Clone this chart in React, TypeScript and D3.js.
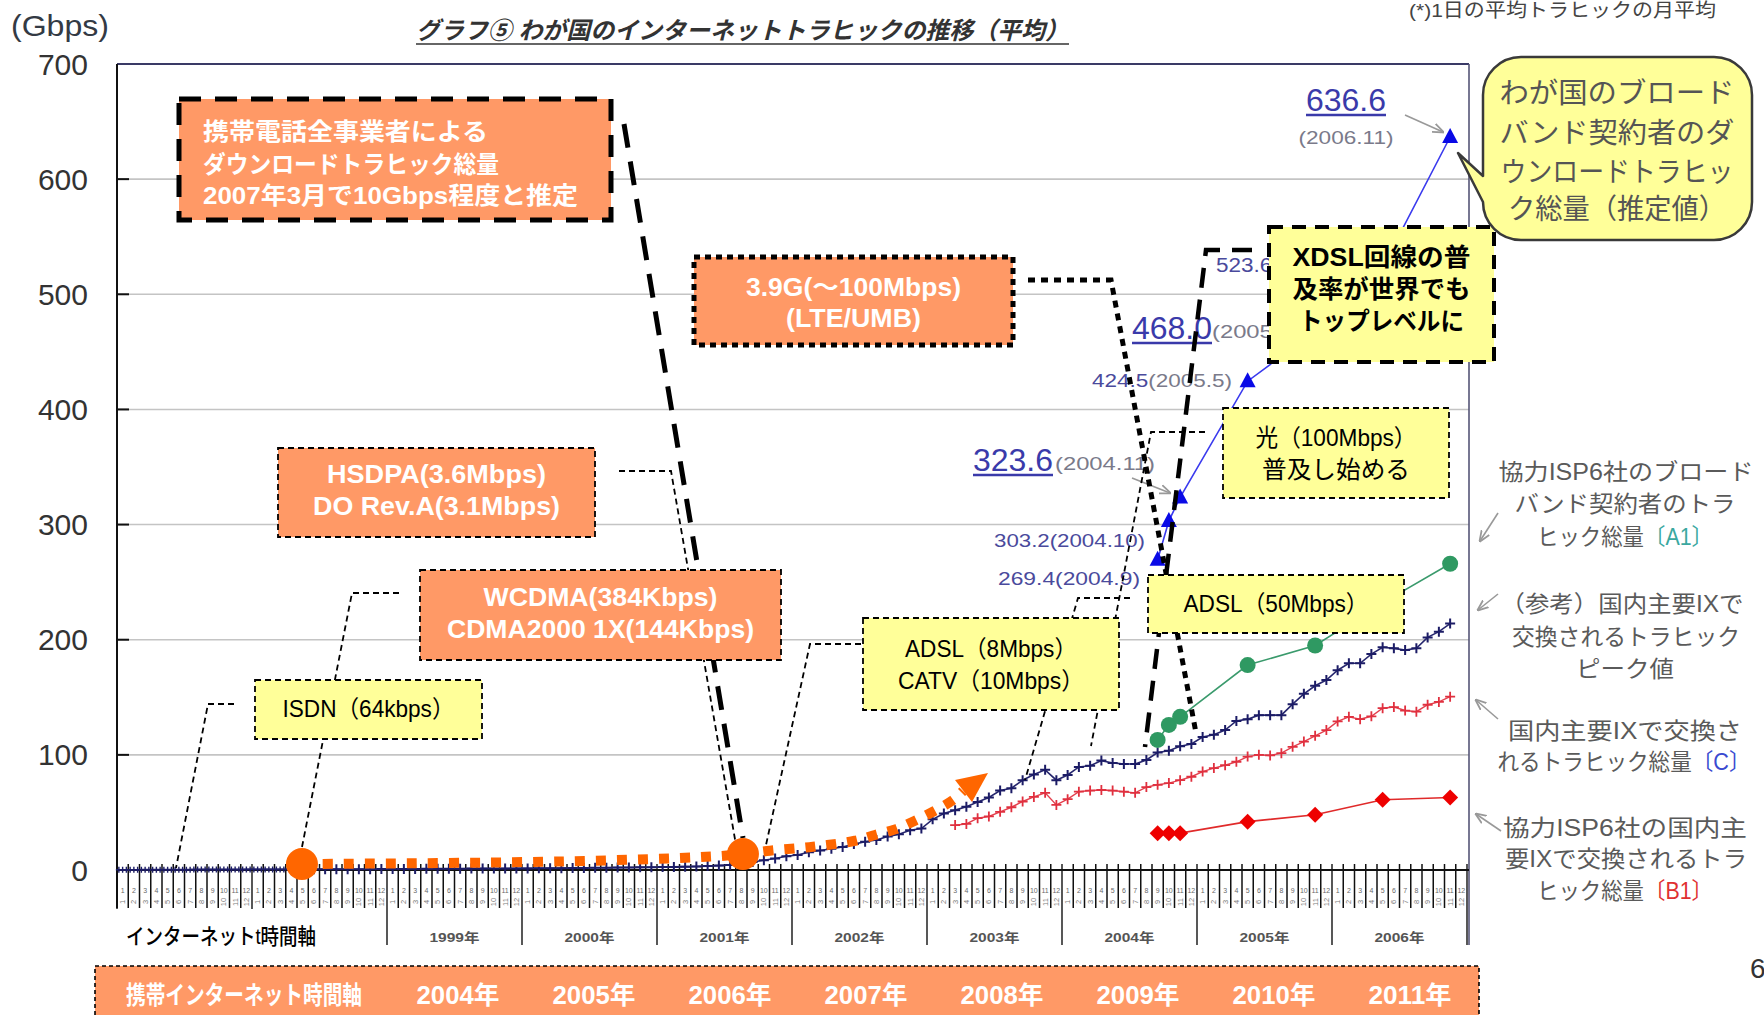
import React, { useEffect } from 'react';
import * as d3 from 'd3';

const FONT = "'Liberation Sans', 'Noto Sans CJK JP', sans-serif";
const ORANGE_BOX = '#ff9966';
const YELLOW = '#ffff99';
const ORANGE = '#ff6600';

// ---------------- data ----------------
const yTickValues = [0, 100, 200, 300, 400, 500, 600, 700];
const internetYearLabels = ['1999年', '2000年', '2001年', '2002年', '2003年', '2004年', '2005年', '2006年'];
const mobileYearLabels = ['2004年', '2005年', '2006年', '2007年', '2008年', '2009年', '2010年', '2011年'];

// (参考)国内主要IXで交換されるトラヒックピーク値 : 1997.1–1998.3, three readings per month
const peakEarly = [
  0.2, 0.2, 0.2, 0.2, 0.2, 0.2,
  0.3, 0.3, 0.3, 0.3, 0.3, 0.3, 0.3, 0.3, 0.3, 0.3, 0.3, 0.3, 0.3, 0.3,
  0.4, 0.4, 0.4, 0.4, 0.4, 0.4, 0.4, 0.4, 0.4, 0.4, 0.4, 0.4, 0.4, 0.4,
  0.5, 0.5, 0.5, 0.5, 0.5, 0.5, 0.5, 0.5, 0.5, 0.5, 0.5,
];
// monthly from 1998.4 to 2006.11
const peakMonthlyStart = 15;
const peakMonthly = [
  0.5, 0.5, 0.6, 0.6, 0.6, 0.7, 0.7, 0.7, 0.8,
  0.8, 0.9, 0.9, 1.0, 1.0, 1.1, 1.1, 1.2, 1.2, 1.3, 1.3, 1.4,
  1.4, 1.5, 1.5, 1.6, 1.7, 1.8, 1.9, 2.0, 2.1, 2.2, 2.3, 2.4,
  2.5, 2.7, 2.9, 3.1, 3.4, 3.8, 4.3, 5.0, 7.0, 8.5, 10.0, 12.0,
  13.0, 15.5, 17.0, 18.5, 20.0, 22.5, 24.5, 26.0, 29.0, 31.0, 34.5, 36.0,
  44.0, 49.0, 52.0, 55.0, 59.0, 63.0, 69.0, 71.0, 78.0, 83.0, 87.0, 78.0,
  82.5, 89.5, 90.5, 95.0, 93.0, 92.0, 92.0, 95.5, 102.0, 103.5, 107.5, 109.5,
  115.5, 117.5, 121.5, 129.5, 131.0, 134.5, 134.5, 134.5, 144.0, 153.0, 160.0, 165.0,
  173.5, 179.5, 179.5, 187.5, 193.5, 192.5, 191.0, 192.5, 202.0, 207.0, 214.0,
];
// 国内主要IXで交換されるトラヒック総量[C] : monthly from 2003.3 to 2006.11
const totalCStart = 74;
const totalC = [
  39.0, 40.0, 45.0, 46.5, 50.5, 54.5, 59.5, 63.5, 67.0, 56.5,
  61.5, 68.0, 69.0, 69.5, 69.0, 68.0, 67.0, 72.0, 74.0, 75.5, 78.0, 81.0,
  85.5, 88.5, 91.0, 94.0, 98.5, 100.0, 99.5, 101.5, 107.0, 111.5, 116.5, 121.5,
  129.0, 133.0, 131.0, 133.5, 140.5, 141.5, 138.5, 137.5, 143.5, 146.0, 150.5,
];
// survey months
const surveyDates = ['2004.9', '2004.10', '2004.11', '2005.5', '2005.11', '2006.5', '2006.11'];
const broadbandTotal = [269.4, 303.2, 323.6, 424.5, 468.0, 523.6, 636.6];
const ispA1 = [113, 126, 133, 178, 195, 232, 266];
const ispB1 = [32, 32, 32, 42, 48, 61, 63];

// mobile time-axis arrow (month index, Gbps)
const mobilePath: [number, number][] = [
  [16.44, 5.2], [39.38, 7.4], [52.89, 11.7], [55.64, 13.9], [58.04, 16.8], [61.87, 20.2],
  [65.6, 25.4], [67.38, 30.4], [69.16, 35.3], [70.93, 42.8], [72.53, 50.6], [74.31, 60.8], [75.2, 68.6],
];
const mobileArrowHead: [number, number][] = [[77.42, 84.2], [74.49, 78.2], [76.0, 59.1]];
const mobileMarkers: [number, number][] = [[16.44, 5.2], [55.64, 13.9]];

// ---------------- helpers ----------------
function T(props: any) {
  const { x, y, size = 24, fill = '#000', weight = 'normal', anchor = 'start', len, italic, children, family = FONT } = props;
  return (
    <text
      x={x}
      y={y}
      fontSize={size}
      fill={fill}
      fontWeight={weight}
      textAnchor={anchor}
      dominantBaseline="central"
      fontFamily={family}
      fontStyle={italic ? 'italic' : 'normal'}
      textLength={len}
      lengthAdjust={len ? 'spacingAndGlyphs' : undefined}
    >
      {children}
    </text>
  );
}

const thin = { stroke: '#000', strokeWidth: 1.8, strokeDasharray: '6 4', fill: 'none' };
const thickDash = { stroke: '#000', strokeWidth: 5, strokeDasharray: '22 14', fill: 'none' };
const thickDot = { stroke: '#000', strokeWidth: 5, strokeDasharray: '6 5', fill: 'none' };

function Box(props: any) {
  const { x, y, w, h, fill, border, lines, color = '#fff', weight = 'bold', size = 24, anchor = 'middle', tx } = props;
  return (
    <g>
      <rect x={x} y={y} width={w} height={h} {...border} fill={fill} />
      {lines.map((l: any, i: number) => (
        <T key={i} x={tx !== undefined ? tx : x + w / 2} y={l.cy} size={size} fill={color} weight={weight} anchor={anchor} len={l.len}>
          {l.t}
        </T>
      ))}
    </g>
  );
}

const pl = (pts: number[][]) => pts.map((p) => p.join(',')).join(' ');

export default function App() {
  useEffect(() => {
    document.body.style.margin = '0';
    document.body.style.overflow = 'hidden';
  }, []);

  const x = d3.scaleLinear().domain([0, 120]).range([117, 1467]);
  const y = d3.scaleLinear().domain([0, 700]).range([870, 64]);
  const left = x(0);
  const right = x(120) + 2;
  const top = y(700);
  const base = y(0);

  const toM = (s: string) => {
    const [yy, mm] = s.split('.').map(Number);
    return (yy - 1997) * 12 + mm - 1;
  };

  const peakPts: [number, number][] = [
    ...peakEarly.map((v, i) => [i / 3 + 1 / 6, v] as [number, number]),
    ...peakMonthly.map((v, i) => [peakMonthlyStart + i + 0.5, v] as [number, number]),
  ];
  const cPts: [number, number][] = totalC.map((v, i) => [totalCStart + i + 0.5, v]);
  const sM = surveyDates.map((d) => toM(d) + 0.5);
  const bbPts: [number, number][] = broadbandTotal.map((v, i) => [sM[i], v]);
  const a1Pts: [number, number][] = ispA1.map((v, i) => [sM[i], v]);
  const b1Pts: [number, number][] = ispB1.map((v, i) => [sM[i], v]);

  const line = d3.line<[number, number]>().x((d) => x(d[0])).y((d) => y(d[1]));
  const curve = d3.line<[number, number]>().x((d) => x(d[0])).y((d) => y(d[1])).curve(d3.curveCatmullRom);
  const cross = (cx: number, cy: number, r: number) => `M${cx - r},${cy}H${cx + r}M${cx},${cy - r}V${cy + r}`;

  const months = d3.range(0, 121);
  const cells = d3.range(0, 120);

  // bubble geometry
  const bx0 = 1483, by0 = 57, bx1 = 1752, by1 = 240, br = 38;
  const bubble = `M${bx0 + br},${by0} H${bx1 - br} A${br},${br} 0 0 1 ${bx1},${by0 + br} V${by1 - br} A${br},${br} 0 0 1 ${bx1 - br},${by1} H${bx0 + br} A${br},${br} 0 0 1 ${bx0},${by1 - br} L1458,153 L${bx0},176 V${by0 + br} A${br},${br} 0 0 1 ${bx0 + br},${by0} Z`;

  const numC = '#4a4a9c';
  const dateC = '#7a7a8a';
  const bigC = '#3a3aaa';

  return (
    <svg width={1764} height={1015} style={{ position: 'absolute', left: 0, top: 0, background: '#fff' }} fontFamily={FONT}>
      <defs>
        <marker id="ga" viewBox="0 0 10 10" refX="9" refY="5" markerWidth="7" markerHeight="7" orient="auto">
          <path d="M0,1 L10,5 L0,9" fill="none" stroke="#999" strokeWidth="1.6" />
        </marker>
      </defs>
      <rect x={0} y={0} width={1764} height={1015} fill="#fff" />

      {/* grid */}
      {yTickValues.filter((v) => v > 0 && v < 700).map((v) => (
        <line key={v} x1={left} x2={right} y1={y(v)} y2={y(v)} stroke="#c4c4c4" strokeWidth={1.6} />
      ))}

      {/* frame */}
      <line x1={left} x2={right} y1={top} y2={top} stroke="#3a3a66" strokeWidth={2} />
      <line x1={left} x2={left} y1={top} y2={908} stroke="#111" strokeWidth={2} />
      <line x1={right} x2={right} y1={top} y2={945} stroke="#555577" strokeWidth={1.6} />
      {yTickValues.filter((v) => v > 0 && v < 700).map((v) => (
        <line key={'t' + v} x1={left} x2={left + 12} y1={y(v)} y2={y(v)} stroke="#111" strokeWidth={2} />
      ))}

      {/* x-axis band */}
      {cells.map((m) => (
        <text key={'r1' + m} x={x(m + 0.5)} y={890} fontSize={7} fill="#6a6a6a" textAnchor="middle" dominantBaseline="central">
          {(m % 12) + 1}
        </text>
      ))}
      {cells.map((m) => (
        <text
          key={'r2' + m}
          x={0}
          y={0}
          fontSize={7.5}
          fill="#7a7a7a"
          textAnchor="middle"
          dominantBaseline="central"
          transform={`translate(${x(m + 0.5)},${902}) rotate(-90)`}
        >
          {(m % 12) + 1}
        </text>
      ))}
      {months.map((m) => (
        <line key={'mt' + m} x1={x(m)} x2={x(m)} y1={864} y2={m % 12 === 0 ? 945 : 908} stroke="#111" strokeWidth={m % 12 === 0 ? 1.4 : 1.5} />
      ))}
      {internetYearLabels.map((t, i) => (
        <T key={t} x={x(24 + i * 12 + 6)} y={937} size={13} fill="#555" weight="bold" anchor="middle" len={50}>
          {t}
        </T>
      ))}
      <rect x={96} y={909} width={252} height={53} fill="#fff" />
      <T x={126} y={936} size={22} fill="#000" weight={500} len={190}>インターネットt時間軸</T>
      <line x1={left} x2={right} y1={base} y2={base} stroke="#111" strokeWidth={2} />

      {/* series: peak (navy) */}
      <path d={line(peakPts) || ''} fill="none" stroke="#26266e" strokeWidth={1.6} />
      {peakPts.map((p, i) => (
        <path key={'pk' + i} d={cross(x(p[0]), y(p[1]), i < peakEarly.length ? 3 : 5)} stroke="#1c1c66" strokeWidth={i < peakEarly.length ? 1.4 : 2} />
      ))}
      {/* series: total C (red) */}
      <path d={line(cPts) || ''} fill="none" stroke="#e4404e" strokeWidth={1.4} />
      {cPts.map((p, i) => (
        <path key={'c' + i} d={cross(x(p[0]), y(p[1]), 5)} stroke="#e0303f" strokeWidth={1.8} />
      ))}
      {/* A1 green */}
      <path d={line(a1Pts) || ''} fill="none" stroke="#3a9a6c" strokeWidth={1.6} />
      {a1Pts.map((p, i) => (
        <circle key={'a' + i} cx={x(p[0])} cy={y(p[1])} r={8} fill="#2f9962" />
      ))}
      {/* B1 red diamonds */}
      <path d={line(b1Pts) || ''} fill="none" stroke="#e02a2a" strokeWidth={1.6} />
      {b1Pts.map((p, i) => {
        const cx = x(p[0]), cy = y(p[1]);
        return <path key={'b' + i} d={`M${cx},${cy - 8}L${cx + 8},${cy}L${cx},${cy + 8}L${cx - 8},${cy}Z`} fill="#ee0000" />;
      })}
      {/* broadband total triangles */}
      <path d={line(bbPts) || ''} fill="none" stroke="#3a3aee" strokeWidth={1.6} />
      {bbPts.map((p, i) => {
        const cx = x(p[0]), cy = y(p[1]);
        return <path key={'bb' + i} d={`M${cx},${cy - 9}L${cx + 8},${cy + 6}L${cx - 8},${cy + 6}Z`} fill="#0a0ae6" />;
      })}

      {/* triangle value labels */}
      <T x={1346} y={100} size={31} fill={bigC} anchor="middle" len={80}>636.6</T>
      <line x1={1306} x2={1386} y1={115} y2={115} stroke={bigC} strokeWidth={2.5} />
      <T x={1346} y={137} size={19} fill={dateC} anchor="middle" len={95}>(2006.11)</T>
      <line x1={1405} y1={115} x2={1443} y2={132} stroke="#999" strokeWidth={1.6} markerEnd="url(#ga)" />

      <T x={1216} y={265} size={20} fill={numC} len={140}>523.6(2006.5)</T>

      <T x={1132} y={328} size={31} fill={bigC} len={80}>468.0</T>
      <line x1={1132} x2={1212} y1={343} y2={343} stroke={bigC} strokeWidth={2.5} />
      <T x={1212} y={331} size={19} fill={dateC} len={100}>(2005.11)</T>

      <text x={1092} y={380} fontSize={19} dominantBaseline="central" textLength={140} lengthAdjust="spacingAndGlyphs">
        <tspan fill={numC}>424.5</tspan>
        <tspan fill={dateC}>(2005.5)</tspan>
      </text>

      <T x={973} y={460} size={31} fill={bigC} len={80}>323.6</T>
      <line x1={973} x2={1053} y1={475} y2={475} stroke={bigC} strokeWidth={2.5} />
      <T x={1055} y={463} size={19} fill={dateC} len={100}>(2004.11)</T>
      <line x1={1132} y1={478} x2={1170} y2={493} stroke="#999" strokeWidth={1.6} markerEnd="url(#ga)" />

      <T x={994} y={540} size={19} fill={numC} len={151}>303.2(2004.10)</T>
      <T x={998} y={578} size={19} fill={numC} len={142}>269.4(2004.9)</T>

      {/* mobile time arrow */}
      <path d={curve(mobilePath) || ''} fill="none" stroke={ORANGE} strokeWidth={10} strokeDasharray="10 11" />
      <polygon points={pl(mobileArrowHead.map((p) => [x(p[0]), y(p[1])]))} fill={ORANGE} />

      {/* leader lines */}
      <polyline points={pl([[624, 124], [743, 838]])} stroke="#000" strokeWidth={5} strokeDasharray="24 14" fill="none" />
      <polyline points={pl([[619, 471], [671, 471], [736, 845]])} {...thin} />
      <polyline points={pl([[399, 593], [352, 593], [302, 847]])} {...thin} />
      <polyline points={pl([[234, 704], [208, 704], [176, 868]])} {...thin} />
      <polyline points={pl([[861, 644], [810, 644], [766, 845]])} {...thin} />
      <polyline points={pl([[1028, 280], [1111, 280], [1196, 733]])} stroke="#000" strokeWidth={5} strokeDasharray="7 6" fill="none" />
      <polyline points={pl([[1252, 250], [1206, 250], [1145, 747]])} stroke="#000" strokeWidth={4.5} strokeDasharray="20 12" fill="none" />
      <polyline points={pl([[1205, 432], [1151, 432], [1091, 746]])} {...thin} />
      <polyline points={pl([[1130, 598], [1078, 598], [1025, 780]])} {...thin} />

      {/* mobile markers */}
      {mobileMarkers.map((p, i) => (
        <circle key={'mm' + i} cx={x(p[0])} cy={y(p[1])} r={16} fill={ORANGE} />
      ))}

      {/* annotation boxes */}
      <Box
        x={179} y={99} w={432} h={121} fill={ORANGE_BOX} border={thickDash} anchor="start" tx={203} size={24}
        lines={[
          { t: '携帯電話全事業者による', cy: 131, len: 285 },
          { t: 'ダウンロードトラヒック総量', cy: 164, len: 296 },
          { t: '2007年3月で10Gbps程度と推定', cy: 195, len: 375 },
        ]}
      />
      <Box
        x={694} y={257} w={319} h={88} fill={ORANGE_BOX} border={thickDot} size={25}
        lines={[
          { t: '3.9G(～100Mbps)', cy: 287, len: 215 },
          { t: '(LTE/UMB)', cy: 318, len: 135 },
        ]}
      />
      <Box
        x={278} y={448} w={317} h={89} fill={ORANGE_BOX} border={thin} size={25}
        lines={[
          { t: 'HSDPA(3.6Mbps)', cy: 474, len: 219 },
          { t: 'DO Rev.A(3.1Mbps)', cy: 506, len: 247 },
        ]}
      />
      <Box
        x={420} y={570} w={361} h={90} fill={ORANGE_BOX} border={thin} size={25}
        lines={[
          { t: 'WCDMA(384Kbps)', cy: 597, len: 234 },
          { t: 'CDMA2000 1X(144Kbps)', cy: 629, len: 307 },
        ]}
      />
      <Box
        x={255} y={680} w={227} h={59} fill={YELLOW} border={thin} color="#000" weight="normal" size={24}
        lines={[{ t: 'ISDN（64kbps）', cy: 708, len: 172 }]}
      />
      <Box
        x={863} y={618} w={256} h={92} fill={YELLOW} border={thin} color="#000" weight="normal" size={24}
        lines={[
          { t: 'ADSL（8Mbps）', cy: 648, len: 172 },
          { t: 'CATV（10Mbps）', cy: 680, len: 186 },
        ]}
      />
      <Box
        x={1223} y={408} w={226} h={90} fill={YELLOW} border={thin} color="#000" weight="normal" size={24}
        lines={[
          { t: '光（100Mbps）', cy: 437, len: 161 },
          { t: '普及し始める', cy: 469, len: 148 },
        ]}
      />
      <Box
        x={1148} y={575} w={256} h={58} fill={YELLOW} border={thin} color="#000" weight="normal" size={24}
        lines={[{ t: 'ADSL（50Mbps）', cy: 603, len: 185 }]}
      />
      <Box
        x={1269} y={227} w={225} h={135} fill={YELLOW}
        border={{ stroke: '#000', strokeWidth: 4, strokeDasharray: '14 9' }}
        color="#000" weight="bold" size={25}
        lines={[
          { t: 'XDSL回線の普', cy: 257, len: 178 },
          { t: '及率が世界でも', cy: 289, len: 178 },
          { t: 'トップレベルに', cy: 321, len: 165 },
        ]}
      />

      {/* speech bubble */}
      <path d={bubble} fill={YELLOW} stroke="#3a3a3a" strokeWidth={2.5} strokeLinejoin="round" />
      <T x={1617} y={93} size={28} fill="#555" anchor="middle" len={235}>わが国のブロード</T>
      <T x={1617} y={133} size={28} fill="#555" anchor="middle" len={235}>バンド契約者のダ</T>
      <T x={1617} y={172} size={28} fill="#555" anchor="middle" len={233}>ウンロードトラヒッ</T>
      <T x={1617} y={209} size={28} fill="#555" anchor="middle" len={218}>ク総量（推定値）</T>

      {/* right legend labels */}
      <T x={1626} y={472} size={23} fill="#5a5a5a" anchor="middle" len={255}>協力ISP6社のブロード</T>
      <T x={1625} y={504} size={23} fill="#5a5a5a" anchor="middle" len={221}>バンド契約者のトラ</T>
      <text x={1625} y={537} fontSize={23} textAnchor="middle" dominantBaseline="central" textLength={176} lengthAdjust="spacingAndGlyphs">
        <tspan fill="#5a5a5a">ヒック総量</tspan>
        <tspan fill="#3aa8a0">〔A1〕</tspan>
      </text>
      <line x1={1498} y1={513} x2={1480} y2={541} stroke="#999" strokeWidth={1.6} markerEnd="url(#ga)" />

      <T x={1622} y={604} size={23} fill="#5a5a5a" anchor="middle" len={243}>（参考）国内主要IXで</T>
      <T x={1626} y={637} size={23} fill="#5a5a5a" anchor="middle" len={228}>交換されるトラヒック</T>
      <T x={1625} y={669} size={23} fill="#5a5a5a" anchor="middle" len={98}>ピーク値</T>
      <line x1={1498} y1={594} x2={1478} y2={610} stroke="#999" strokeWidth={1.6} markerEnd="url(#ga)" />

      <T x={1625} y={731} size={23} fill="#5a5a5a" anchor="middle" len={234}>国内主要IXで交換さ</T>
      <text x={1624} y={762} fontSize={23} textAnchor="middle" dominantBaseline="central" textLength={253} lengthAdjust="spacingAndGlyphs">
        <tspan fill="#5a5a5a">れるトラヒック総量</tspan>
        <tspan fill="#3a4ad0">〔C〕</tspan>
      </text>
      <line x1={1498} y1={719} x2={1476} y2={700} stroke="#999" strokeWidth={1.6} markerEnd="url(#ga)" />

      <T x={1625} y={828} size={23} fill="#5a5a5a" anchor="middle" len={244}>協力ISP6社の国内主</T>
      <T x={1626} y={859} size={23} fill="#5a5a5a" anchor="middle" len={242}>要IXで交換されるトラ</T>
      <text x={1625} y={891} fontSize={23} textAnchor="middle" dominantBaseline="central" textLength={176} lengthAdjust="spacingAndGlyphs">
        <tspan fill="#5a5a5a">ヒック総量</tspan>
        <tspan fill="#e03030">〔B1〕</tspan>
      </text>
      <line x1={1501} y1={831} x2={1476} y2={814} stroke="#999" strokeWidth={1.6} markerEnd="url(#ga)" />

      {/* titles & axis labels */}
      <T x={416} y={30} size={24} fill="#333" weight="bold" italic len={653}>グラフ⑤ わが国のインターネットトラヒックの推移（平均）</T>
      <line x1={416} x2={1069} y1={44} y2={44} stroke="#333" strokeWidth={1.6} />
      <T x={1409} y={10} size={19} fill="#444" len={307}>(*)1日の平均トラヒックの月平均</T>
      <T x={11} y={25} size={30} fill="#333a44" len={98}>(Gbps)</T>
      {yTickValues.map((v) => (
        <T key={'yl' + v} x={88} y={y(v)} size={30} fill="#333" anchor="end">
          {v}
        </T>
      ))}

      {/* mobile time axis band */}
      <rect x={95} y={966} width={1384} height={60} fill={ORANGE_BOX} />
      <polyline points={pl([[95, 1015], [95, 966], [1479, 966], [1479, 1015]])} fill="none" stroke="#000" strokeWidth={1.6} strokeDasharray="4 3" />
      <T x={126} y={995} size={25} fill="#fff" weight="bold" len={236}>携帯インターネット時間軸</T>
      {mobileYearLabels.map((t, i) => (
        <T key={t} x={458 + i * 136} y={995} size={25} fill="#fff" weight="bold" anchor="middle" len={83}>
          {t}
        </T>
      ))}
      <T x={1750} y={968} size={28} fill="#333">6</T>
    </svg>
  );
}
